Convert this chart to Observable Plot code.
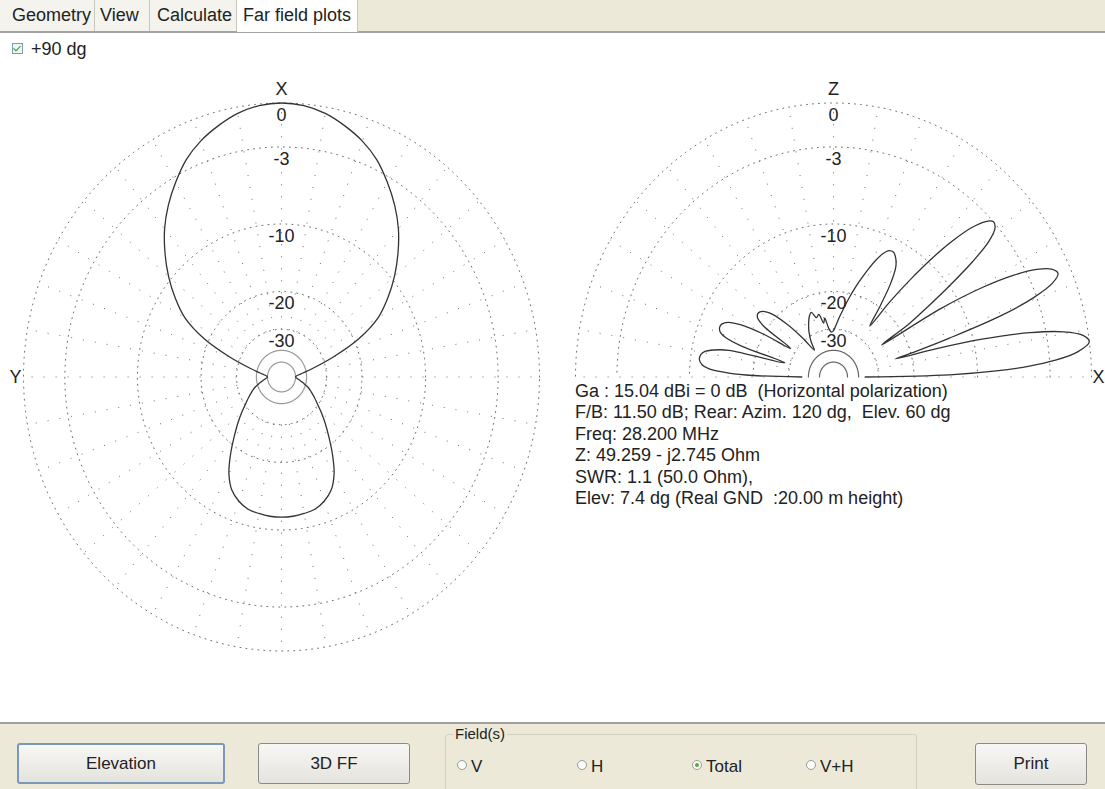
<!DOCTYPE html>
<html><head><meta charset="utf-8">
<script src="https://cdn.jsdelivr.net/npm/d3@7"></script>
<script src="https://cdn.jsdelivr.net/npm/@observablehq/plot@0.6"></script>
<style>
body{margin:0;width:1105px;height:789px;overflow:hidden;background:#fff;font-family:"Liberation Sans",Arial,sans-serif;position:relative;color:#222}
.abs{position:absolute}
#tabbar{left:0;top:0;width:1105px;height:31px;background:#ECE9D8;border-bottom:2px solid #A3A3A3}
.tab{position:absolute;top:0;height:31px;background:#F4F3EE;font-size:18px;line-height:30px;border-right:1px solid #C9C7BA;box-sizing:border-box}
.tab.active{background:#fff;height:32px}
#chk{left:12px;top:39px;font-size:18px;line-height:20px}
#chk .box{display:inline-block;width:9px;height:9px;border:1px solid #7A9CB8;background:#EEF7EE;margin-right:8px;vertical-align:1px;position:relative}
#chk .box:after{content:"";position:absolute;left:2px;top:0px;width:3px;height:6px;border:solid #3A9A3A;border-width:0 1.5px 1.5px 0;transform:rotate(45deg)}
#info{left:575px;top:381px;font-size:18px;line-height:21.4px;white-space:pre}
#panel{left:0;top:722px;width:1105px;height:67px;background:#ECE9D8;border-top:2px solid #A0A0A0}
.btn{position:absolute;box-sizing:border-box;border:1px solid #8A8A8A;border-radius:3px;background:linear-gradient(#F7F7F5,#E4E3DD);font-size:17px;display:flex;align-items:center;justify-content:center}
.btn.focus{border:2px solid #7C98B8}
#group{position:absolute;left:445px;top:10px;width:470px;height:70px;border:1px solid #D3D0C0;border-radius:3px}
#glabel{position:absolute;left:453px;top:1px;font-size:15px;background:#ECE9D8;padding:0 2px}
.radio{position:absolute;top:33px;font-size:17px;line-height:20px}
.radio i{display:inline-block;width:8px;height:8px;border:1px solid #9A9A9A;border-radius:50%;background:#fff;margin-right:4px;vertical-align:2px;position:relative}
.radio i.on:after{content:"";position:absolute;left:2px;top:2px;width:4px;height:4px;border-radius:50%;background:#5BAA3C}
</style></head><body>
<div id="tabbar" class="abs"></div>
<div id="chk" class="abs"><span class="box"></span>+90 dg</div>
<div id="az" class="abs" style="left:0;top:60px"></div>
<div id="el" class="abs" style="left:552px;top:60px"></div>
<div id="info" class="abs"></div>
<div id="panel" class="abs"></div>
<script>
// ---- data ----
const tabs = ["Geometry", "View", "Calculate", "Far field plots"];
const ringDb = [0, -3, -10, -20, -30];
const ringLabels = ["0", "-3", "-10", "-20", "-30"];
const innerRingDb = [-40, -50];
const spokeStep = 10; // degrees between dotted spokes
// Azimuth pattern (angle from X axis, degrees) -> gain, dB
const azAngles = [0,5,10,15,20,25,30,35,40,45,50,55,60,65,70,75,80,85,90,95,100,105,110,115,120,125,130,135,140,145,150,155,160,165,170,175,
  180,185,190,195,200,205,210,215,220,225,230,235,240,245,250,255,260,265,270,275,280,285,290,295,300,305,310,315,320,325,330,335,340,345,350,355];
const azDb = [0,-0.1,-0.4,-0.9,-1.5,-2.3,-3.4,-4.6,-6.0,-7.7,-9.6,-11.8,-14.4,-19,-26.5,-35,-42.5,-48,-50,-48,-45,-41.5,-38,-35.5,-33,-30.5,-27.5,-24.5,-21.5,-18.3,-15.4,-13.5,-12.5,-11.9,-11.7,-11.55,
  -11.5,-11.55,-11.7,-11.9,-12.5,-13.5,-15.4,-18.3,-21.5,-24.5,-27.5,-30.5,-33,-35.5,-38,-41.5,-45,-48,-50,-48,-42.5,-35,-26.5,-19,-14.4,-11.8,-9.6,-7.7,-6.0,-4.6,-3.4,-2.3,-1.5,-0.9,-0.4,-0.1];
// Elevation pattern (angle from X horizon, degrees) -> gain, dB
const elAngles = [0,1,2,3,4,5.5,7.4,9,10.5,12,13.5,14.5,15.4,16.3,17.5,19,20.5,22,23.5,25,26.5,28,29.5,31,32.1,33.5,35,36.5,38,39.5,41,42.5,44,45.5,47,48.5,50,51.5,52.9,
  55,57,59,61,63,65,67,69,71,73,75,78,81,84,87,90,93,96,99,101,104,107,110,113,116,120,124,127,130,133,136,139,141.3,143.5,145.5,147.9,150,152,154,156,157.6,159.5,161,162.5,164.6,
  166.5,168,169.5,171,173,175,176.5,178,179,180];
const elDb = [-36,-13.7,-7.9,-4.7,-2.7,-0.9,0,-0.4,-1.7,-4.3,-9,-15,-24,-19,-13,-6.5,-3.2,-1.5,-0.9,-1.2,-2.2,-4.0,-7.0,-12.5,-26,-18,-14,-10,-6.5,-4.2,-3.2,-3.0,-3.5,-4.6,-6.5,-9.2,-13,-18,-25,
  -20,-15.5,-13,-12,-11.5,-11.6,-12.3,-13.5,-15,-16.6,-18.2,-20.8,-23.5,-26,-28.5,-30.5,-31,-29.5,-26.2,-27.6,-24.8,-25.5,-23.7,-24.5,-26,-28.5,-32,-36,-29,-23,-19,-17.3,-16.9,-17.2,-19,-28,-20,-15.5,-13.5,-12.8,-12.7,-13,-14,-17,-28,
  -15,-12.8,-11.6,-11.2,-11.1,-11.5,-12.5,-15.5,-20,-36];
const infoLines = [
  "Ga : 15.04 dBi = 0 dB  (Horizontal polarization)",
  "F/B: 11.50 dB; Rear: Azim. 120 dg,  Elev. 60 dg",
  "Freq: 28.200 MHz",
  "Z: 49.259 - j2.745 Ohm",
  "SWR: 1.1 (50.0 Ohm),",
  "Elev: 7.4 dg (Real GND  :20.00 m height)"
];
const buttons = ["Elevation", "3D FF", "Print"];
const fieldOptions = ["V", "H", "Total", "V+H"];
const fieldSelected = "Total";

// ---- ARRL log radial scale: every 2 dB multiplies the radius by 0.89 ----
const rOf = db => Math.pow(0.89, -db / 2);
const rad = d => d * Math.PI / 180;

function polarPlot({full, angles, db, axisTop, axisSide, sideDx, innerStroke}) {
  const W = 553, H = 662, cx = 281, cy = 316.5, rx = 258, ry = 274;
  const a1 = full ? 360 : 180;
  const ringPts = [];
  for (const d of ringDb) for (let a = 0; a <= a1; a += 1) ringPts.push({ring: d, x: rOf(d) * Math.cos(rad(a)), y: rOf(d) * Math.sin(rad(a))});
  const innerPts = [];
  for (const d of innerRingDb) for (let a = 0; a <= a1; a += 1) innerPts.push({ring: d, x: rOf(d) * Math.cos(rad(a)), y: rOf(d) * Math.sin(rad(a))});
  const spokes = [];
  const rIn = rOf(ringDb[ringDb.length - 1]);
  for (let a = 0; a < (full ? 360 : 181); a += spokeStep) spokes.push({a, x1: rIn * Math.cos(rad(a)), y1: rIn * Math.sin(rad(a)), x2: Math.cos(rad(a)), y2: Math.sin(rad(a))});
  const pts = angles.map((a, i) => {
    const r = rOf(db[i]);
    return full ? {x: -r * Math.sin(rad(a)), y: r * Math.cos(rad(a))} : {x: r * Math.cos(rad(a)), y: r * Math.sin(rad(a))};
  });
  const font = {fontFamily: "Liberation Sans, Arial, sans-serif", fill: "#222"};
  return Plot.plot({
    width: W, height: H, margin: 0,
    style: {background: "transparent", overflow: "visible"},
    x: {domain: [-1, 1], range: [cx - rx, cx + rx], axis: null},
    y: {domain: [-1, 1], range: [cy + ry, cy - ry], axis: null},
    marks: [
      Plot.line(ringPts, {x: "x", y: "y", z: "ring", stroke: "#555", strokeWidth: 1, strokeDasharray: "1,5", strokeOpacity: 0.85}),
      Plot.link(spokes, {x1: "x1", y1: "y1", x2: "x2", y2: "y2", stroke: "#555", strokeWidth: 1, strokeDasharray: "1,11", strokeOpacity: 0.85}),
      Plot.line(innerPts, {x: "x", y: "y", z: "ring", stroke: innerStroke, strokeWidth: 1.2}),
      Plot.line(pts, {x: "x", y: "y", stroke: "#333", strokeWidth: 1.3, curve: full ? "catmull-rom-closed" : "catmull-rom"}),
      Plot.text(ringDb, {x: () => 0, y: d => rOf(d), text: (d, i) => ringLabels[i], dy: 12, fontSize: 18, textAnchor: "middle", ...font}),
      Plot.text([axisTop], {x: () => 0, y: () => 1, text: d => d, dy: -14, fontSize: 18, ...font}),
      Plot.text([axisSide], {x: () => (full ? -1 : 1), y: () => 0, text: d => d, dx: sideDx, fontSize: 18, ...font})
    ]
  });
}

document.getElementById("az").append(polarPlot({full: true, angles: azAngles, db: azDb, axisTop: "X", axisSide: "Y", sideDx: -8, innerStroke: "#9a9a9a"}));
document.getElementById("el").append(polarPlot({full: false, angles: elAngles, db: elDb, axisTop: "Z", axisSide: "X", sideDx: 7, innerStroke: "#666"}));

// ---- surrounding UI ----
const tabPos = [[0, 95, 12], [95, 55, 5], [150, 87, 7], [237, 121, 6]];
const bar = document.getElementById("tabbar");
tabs.forEach((t, i) => {
  const d = document.createElement("div");
  d.className = "tab" + (i === 3 ? " active" : "");
  d.style.left = tabPos[i][0] + "px"; d.style.width = tabPos[i][1] + "px"; d.style.paddingLeft = tabPos[i][2] + "px";
  d.textContent = t; bar.append(d);
});
document.getElementById("info").textContent = infoLines.join("\n");
const panel = document.getElementById("panel");
const btnPos = [[17, 19, 208, 41, true], [258, 19, 152, 41, false], [975, 19, 112, 42, false]];
buttons.forEach((b, i) => {
  const d = document.createElement("div");
  d.className = "btn" + (btnPos[i][4] ? " focus" : "");
  Object.assign(d.style, {left: btnPos[i][0] + "px", top: btnPos[i][1] + "px", width: btnPos[i][2] + "px", height: btnPos[i][3] + "px"});
  d.textContent = b; panel.append(d);
});
const g = document.createElement("div"); g.id = "group"; panel.append(g);
const gl = document.createElement("div"); gl.id = "glabel"; gl.textContent = "Field(s)"; panel.append(gl);
const radioX = [457, 577, 692, 806];
fieldOptions.forEach((f, i) => {
  const d = document.createElement("div"); d.className = "radio"; d.style.left = radioX[i] + "px";
  d.innerHTML = `<i class="${f === fieldSelected ? "on" : ""}"></i>`; d.append(f); panel.append(d);
});
</script>
</body></html>
